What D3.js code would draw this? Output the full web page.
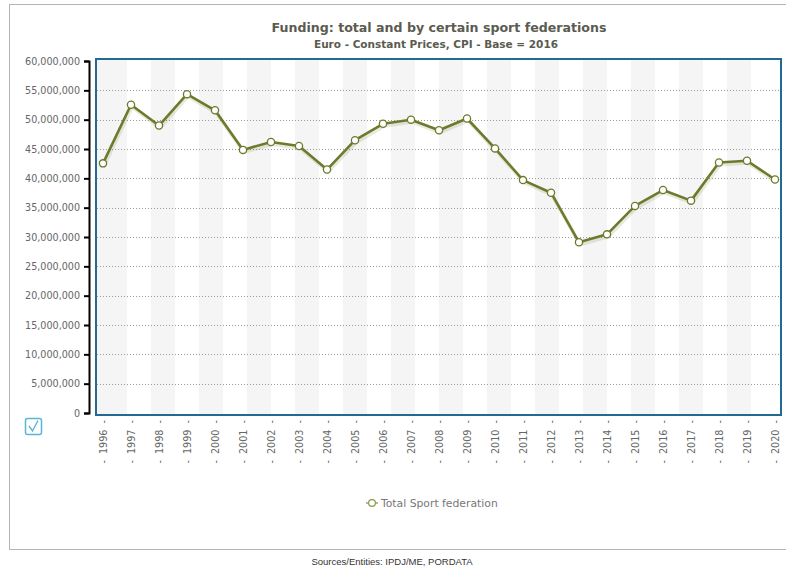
<!DOCTYPE html>
<html>
<head>
<meta charset="utf-8">
<script src="https://cdn.jsdelivr.net/npm/d3@7"></script>
<style>
  body { margin: 0; background: #fff; }
  svg { display: block; }
</style>
</head>
<body>
<div class="chart"></div>
<script>
(() => {
var years = ['1996','1997','1998','1999','2000','2001','2002','2003','2004','2005','2006','2007','2008',
             '2009','2010','2011','2012','2013','2014','2015','2016','2017','2018','2019','2020'];
var funding = [42.55, 52.55, 49.0, 54.35, 51.6, 44.85, 46.2, 45.5, 41.5, 46.5, 49.3, 50.0, 48.2,
               50.2, 45.1, 39.7, 37.55, 29.1, 30.45, 35.3, 38.0, 36.2, 42.7, 43.0, 39.8].map(v => v * 1e6);
var yTicks = d3.range(0, 60000001, 5000000);
var seriesName = 'Total Sport federation';

var width = 786,
    height = 572,
    plot = {left: 96, top: 59, right: 781, bottom: 415};

var svg = d3.select('div.chart')
    .append('svg')
        .attr('width', width)
        .attr('height', height);

// outer frame
svg.append('rect')
    .attr('x', 9.5).attr('y', 4.5)
    .attr('width', 800).attr('height', 545)
    .style('fill', 'none')
    .style('stroke', '#b4b4b4');

var x = d3.scalePoint()
    .domain(years)
    .range([103, 775]);

var y = d3.scaleLinear()
    .domain([0, 60000000])
    .range([413, 61]);

// alternating vertical bands
var half = (x('2020') - x('1996')) / 28;
svg.append('g')
    .selectAll('rect')
    .data(d3.range(14))
    .enter()
    .append('rect')
        .attr('x', (d) => d === 0 ? plot.left : x('1996') + d * 2 * half)
        .attr('y', plot.top)
        .attr('width', (d) => d === 0 ? x('1996') + half - plot.left : half)
        .attr('height', plot.bottom - plot.top)
        .style('fill', '#f5f5f5');

// dotted grid lines
svg.append('g')
    .selectAll('line')
    .data(yTicks.slice(1, -1))
    .enter()
    .append('line')
        .attr('x1', plot.left + 1)
        .attr('x2', plot.right - 1)
        .attr('y1', (d) => Math.round(y(d)) + 0.5)
        .attr('y2', (d) => Math.round(y(d)) + 0.5)
        .style('stroke', '#9a9a9a')
        .style('stroke-dasharray', '1,2');

// plot frame
svg.append('rect')
    .attr('x', plot.left).attr('y', plot.top)
    .attr('width', plot.right - plot.left)
    .attr('height', plot.bottom - plot.top)
    .style('fill', 'none')
    .style('stroke', '#236a92')
    .style('stroke-width', 2);

// y axis
var yAxis = svg.append('g')
    .attr('transform', 'translate(89,0)')
    .call(d3.axisLeft(y).tickValues(yTicks).tickSize(5).tickPadding(4).tickFormat(d3.format(',')));
yAxis.select('.domain').style('stroke', '#000').style('stroke-width', 2);
yAxis.selectAll('.tick line').style('stroke', '#000').style('stroke-width', 2);
yAxis.selectAll('text')
    .style('font-family', '"DejaVu Sans", Verdana, sans-serif')
    .style('font-size', '9.6px')
    .style('fill', '#666');

// x axis labels
var xAxis = svg.append('g')
    .attr('transform', 'translate(0,' + plot.bottom + ')')
    .call(d3.axisBottom(x).tickSize(0).tickFormat((d) => '-\u00a0\u00a0' + d + '\u00a0\u00a0-'));
xAxis.select('.domain').remove();
xAxis.selectAll('text')
    .attr('transform', 'rotate(-90)')
    .attr('x', -5)
    .attr('y', 0)
    .attr('dy', '0.35em')
    .style('text-anchor', 'end')
    .style('font-family', '"DejaVu Sans", Verdana, sans-serif')
    .style('font-size', '9.6px')
    .style('fill', '#666');

// line with soft shadow
var line = d3.line()
    .x((d, i) => x(years[i]))
    .y((d) => y(d));

svg.append('path')
    .datum(funding)
    .attr('d', line)
    .attr('transform', 'translate(1,2)')
    .style('fill', 'none')
    .style('stroke', 'rgba(110,125,45,0.16)')
    .style('stroke-width', 4);

svg.append('path')
    .datum(funding)
    .attr('d', line)
    .style('fill', 'none')
    .style('stroke', '#6b7b2c')
    .style('stroke-width', 2.6)
    .style('stroke-linejoin', 'round');

svg.append('g')
    .selectAll('circle')
    .data(funding)
    .enter()
    .append('circle')
        .attr('cx', (d, i) => x(years[i]))
        .attr('cy', (d) => y(d))
        .attr('r', 3.6)
        .style('fill', '#fff')
        .style('stroke', '#6b7b2c')
        .style('stroke-width', 1.3);

// titles
svg.append('text')
    .attr('x', 439).attr('y', 32)
    .attr('text-anchor', 'middle')
    .style('font-family', '"DejaVu Sans", Verdana, sans-serif')
    .style('font-weight', 'bold')
    .style('font-size', '12.6px')
    .style('fill', '#5b5b50')
    .text('Funding: total and by certain sport federations');

svg.append('text')
    .attr('x', 436).attr('y', 48)
    .attr('text-anchor', 'middle')
    .style('font-family', '"DejaVu Sans", Verdana, sans-serif')
    .style('font-weight', 'bold')
    .style('font-size', '10.5px')
    .style('fill', '#5b5b50')
    .text('Euro - Constant Prices, CPI - Base = 2016');

// checkbox icon
var cb = svg.append('g').attr('transform', 'translate(25,418)');
cb.append('rect')
    .attr('x', 0.5).attr('y', 0.5)
    .attr('width', 16).attr('height', 16)
    .attr('rx', 2)
    .style('fill', '#fff')
    .style('stroke', '#5cb4d8')
    .style('stroke-width', 1.5);
cb.append('path')
    .attr('d', 'M4,8 L7.5,13 L13,2.5')
    .style('fill', 'none')
    .style('stroke', '#5cb4d8')
    .style('stroke-width', 1.4);

// legend
var lg = svg.append('g').attr('transform', 'translate(372,503)');
lg.append('line')
    .attr('x1', -6).attr('x2', 6)
    .style('stroke', '#8a9a4a')
    .style('stroke-width', 1.3);
lg.append('circle')
    .attr('r', 3.4)
    .style('fill', '#fff')
    .style('stroke', '#8a9a4a')
    .style('stroke-width', 1.2);
lg.append('text')
    .attr('x', 9).attr('y', 3.5)
    .style('font-family', '"DejaVu Sans", Verdana, sans-serif')
    .style('font-size', '10.8px')
    .style('fill', '#777')
    .text(seriesName);

// source
svg.append('text')
    .attr('x', 392).attr('y', 565)
    .attr('text-anchor', 'middle')
    .style('font-family', '"Liberation Sans", Arial, sans-serif')
    .style('font-size', '9.5px')
    .style('fill', '#333')
    .text('Sources/Entities: IPDJ/ME, PORDATA');
})();
</script>
</body>
</html>
